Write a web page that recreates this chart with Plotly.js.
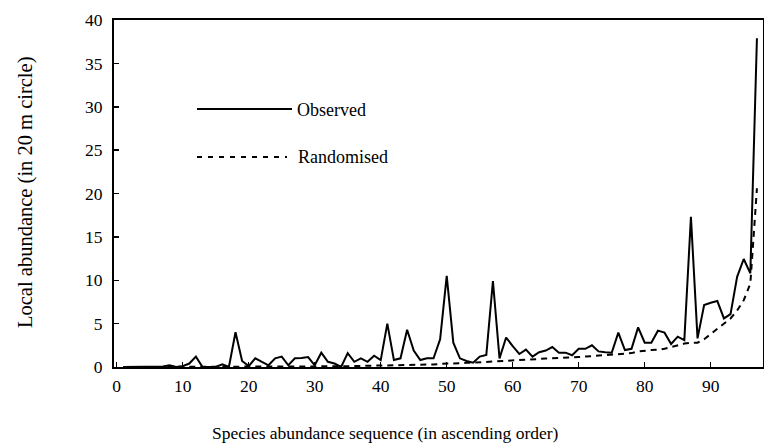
<!DOCTYPE html>
<html>
<head>
<meta charset="utf-8">
<script src="https://cdn.plot.ly/plotly-3.0.1.min.js"></script>
<style>html,body{margin:0;padding:0;background:#fff;}#chart{width:764px;height:447px;}</style>
</head>
<body>
<div id="chart"></div>
<script>
// Species rank (ascending order of abundance)
const species = Array.from({length: 97}, (_, i) => i + 1);

// Observed local abundance (in 20 m circle)
const observed = [
  0, 0, 0, 0, 0, 0, 0.05, 0.2, 0, 0.1,
  0.4, 1.2, 0, 0, 0, 0.3, 0, 4.0, 0.7, 0.1,
  1.0, 0.6, 0.2, 1.0, 1.2, 0.2, 1.0, 1.05, 1.15, 0.2,
  1.65, 0.6, 0.4, 0, 1.6, 0.6, 1.0, 0.6, 1.3, 0.8,
  5.0, 0.8, 1.0, 4.3, 1.9, 0.8, 1.0, 1.0, 3.2, 10.5,
  2.8, 1.0, 0.7, 0.5, 1.2, 1.4, 9.9, 1.0, 3.4, 2.4,
  1.5, 2.0, 1.2, 1.7, 1.9, 2.3, 1.65, 1.65, 1.35, 2.1,
  2.1, 2.5, 1.8, 1.7, 1.65, 3.96, 1.96, 2.1, 4.57, 2.8,
  2.8, 4.19, 3.96, 2.65, 3.5, 3.1, 17.3, 3.3, 7.15, 7.4,
  7.6, 5.6, 6.1, 10.4, 12.45, 10.8, 37.9
];

// Randomised expectation
const randomised = [
  0, 0, 0, 0, 0, 0, 0, 0, 0, 0,
  0, 0, 0, 0, 0, 0, 0, 0, 0, 0,
  0.02, 0.02, 0.03, 0.03, 0.04, 0.04, 0.05, 0.05, 0.06, 0.06,
  0.07, 0.07, 0.08, 0.08, 0.09, 0.1, 0.1, 0.12, 0.13, 0.14,
  0.15, 0.17, 0.19, 0.2, 0.22, 0.25, 0.28, 0.3, 0.35, 0.4,
  0.42, 0.45, 0.48, 0.5, 0.55, 0.6, 0.65, 0.7, 0.75, 0.8,
  0.85, 0.9, 0.92, 0.95, 0.97, 1.0, 1.02, 1.05, 1.1, 1.15,
  1.2, 1.25, 1.3, 1.35, 1.4, 1.45, 1.5, 1.6, 1.8, 1.9,
  1.95, 2.0, 2.1, 2.3, 2.5, 2.7, 2.8, 2.8, 3.2, 3.8,
  4.3, 5.0, 5.6, 6.5, 7.7, 9.6, 20.6
];

const xTickVals = [0, 10, 20, 30, 40, 50, 60, 70, 80, 90];
const yTickVals = [0, 5, 10, 15, 20, 25, 30, 35, 40];

const FONT = 'Liberation Serif, Times New Roman, serif';

const traces = [
  {x: species, y: observed, type: 'scatter', mode: 'lines', name: 'Observed',
   line: {color: '#000', width: 2}},
  {x: species, y: randomised, type: 'scatter', mode: 'lines', name: 'Randomised',
   line: {color: '#000', width: 2, dash: '6px,5px'}}
];

// paper coordinate helpers (plot area: x 114..763, y 20..367 px)
const px = v => (v - 114) / 649;
const py = v => (367 - v) / 347;

const layout = {
  width: 764, height: 447,
  margin: {l: 114, r: 1, t: 20, b: 80},
  paper_bgcolor: '#fff', plot_bgcolor: '#fff',
  showlegend: false,
  font: {family: FONT, size: 17, color: '#000'},
  xaxis: {
    range: [-0.41, 97.92], tickvals: xTickVals, ticktext: xTickVals.map(String),
    ticks: 'inside', ticklen: 5, tickwidth: 1.5, tickcolor: '#000',
    showline: true, linecolor: '#000', linewidth: 2, mirror: true,
    showgrid: false, zeroline: false, ticklabelstandoff: 2,
    tickfont: {family: FONT, size: 17.5, color: '#000'}
  },
  yaxis: {
    range: [0, 40], tickvals: yTickVals, ticktext: yTickVals.map(String),
    ticks: 'inside', ticklen: 5, tickwidth: 1.5, tickcolor: '#000',
    showline: true, linecolor: '#000', linewidth: 2, mirror: true,
    showgrid: false, zeroline: false, ticklabelstandoff: 6,
    tickfont: {family: FONT, size: 17.5, color: '#000'}
  },
  shapes: [
    {type: 'line', xref: 'paper', yref: 'paper', x0: px(197), x1: px(292), y0: py(109), y1: py(109),
     line: {color: '#000', width: 2}},
    {type: 'line', xref: 'paper', yref: 'paper', x0: px(197), x1: px(287), y0: py(157), y1: py(157),
     line: {color: '#000', width: 2, dash: '5px,6px'}}
  ],
  annotations: [
    {text: 'Observed', xref: 'paper', yref: 'paper', x: px(295), y: py(110), xanchor: 'left', yanchor: 'middle',
     showarrow: false, font: {family: FONT, size: 18, color: '#000'}},
    {text: 'Randomised', xref: 'paper', yref: 'paper', x: px(296), y: py(157), xanchor: 'left', yanchor: 'middle',
     showarrow: false, font: {family: FONT, size: 18, color: '#000'}},
    {text: 'Species abundance sequence (in ascending order)', xref: 'paper', yref: 'paper',
     x: px(385), y: py(433), xanchor: 'center', yanchor: 'middle', showarrow: false,
     font: {family: FONT, size: 17.5, color: '#000'}},
    {text: 'Local abundance (in 20 m circle)', xref: 'paper', yref: 'paper',
     x: px(25), y: py(192), xanchor: 'center', yanchor: 'middle', textangle: -90, showarrow: false,
     font: {family: FONT, size: 20.5, color: '#000'}}
  ]
};

Plotly.newPlot('chart', traces, layout, {displayModeBar: false, staticPlot: true});
</script>
</body>
</html>
